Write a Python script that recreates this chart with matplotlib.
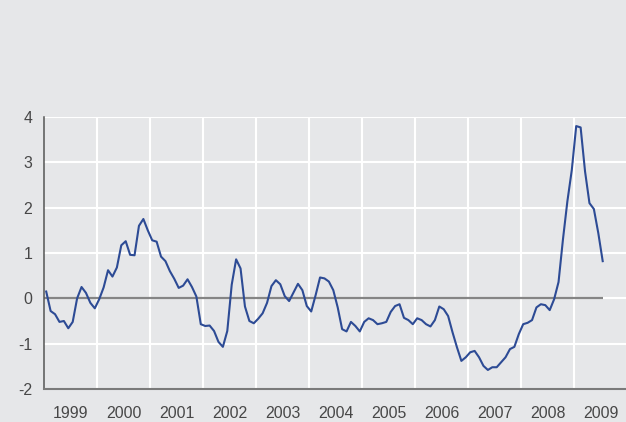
import numpy as np
import matplotlib.pyplot as plt
from matplotlib.ticker import FixedLocator, NullFormatter

plt.rcParams['font.family'] = ['Liberation Sans', 'DejaVu Sans']
plt.rcParams['axes.unicode_minus'] = False

# monthly values, Jan 1999 - Jul 2009
v1999 = [0.15, -0.28, -0.35, -0.52, -0.5, -0.66, -0.52, 0.0, 0.25, 0.12, -0.1, -0.22]
v2000 = [-0.02, 0.24, 0.62, 0.48, 0.68, 1.17, 1.26, 0.96, 0.95, 1.6, 1.75, 1.5]
v2001 = [1.28, 1.25, 0.92, 0.82, 0.6, 0.43, 0.23, 0.28, 0.42, 0.25, 0.04, -0.57]
v2002 = [-0.61, -0.6, -0.72, -0.96, -1.07, -0.72, 0.3, 0.86, 0.66, -0.18, -0.5, -0.55]
v2003 = [-0.45, -0.33, -0.1, 0.27, 0.4, 0.31, 0.05, -0.06, 0.13, 0.32, 0.18, -0.17]
v2004 = [-0.29, 0.07, 0.46, 0.44, 0.37, 0.18, -0.2, -0.68, -0.73, -0.52, -0.61, -0.73]
v2005 = [-0.52, -0.44, -0.48, -0.57, -0.55, -0.52, -0.3, -0.17, -0.13, -0.43, -0.48, -0.57]
v2006 = [-0.44, -0.48, -0.57, -0.62, -0.48, -0.18, -0.24, -0.39, -0.75, -1.08, -1.38, -1.3]
v2007 = [-1.19, -1.16, -1.3, -1.49, -1.58, -1.52, -1.52, -1.41, -1.3, -1.12, -1.07, -0.79]
v2008 = [-0.57, -0.54, -0.48, -0.2, -0.13, -0.15, -0.26, -0.02, 0.36, 1.3, 2.14, 2.83]
v2009 = [3.8, 3.77, 2.8, 2.1, 1.97, 1.44, 0.82]

values = v1999 + v2000 + v2001 + v2002 + v2003 + v2004 + v2005 + v2006 + v2007 + v2008 + v2009
dates = 1999 + (np.arange(len(values)) + 0.5) / 12
years = list(range(1999, 2010))

bg = '#e6e7e9'
fig = plt.figure(figsize=(6.26, 4.22), dpi=100, facecolor=bg)
ax = fig.add_axes([44 / 626, 33 / 422, 583 / 626, 272 / 422], facecolor=bg)

ax.set_xlim(1999, 2010)
ax.set_ylim(-2, 4)

for y in range(-1, 5):
    ax.axhline(y, color='white', lw=1.5, zorder=1)
for x in years[1:] + [2010]:
    ax.axvline(x, color='white', lw=1.5, zorder=1)

ax.hlines(0, 1999, dates[-1], color='#858585', lw=1.6, zorder=2)
ax.plot(dates, values, color='#2d4b95', lw=1.5, zorder=3)

for s in ['top', 'right']:
    ax.spines[s].set_visible(False)
ax.spines['left'].set_color('#555555')
ax.spines['left'].set_linewidth(1.1)
ax.spines['bottom'].set_color('#7a7a7a')
ax.spines['bottom'].set_linewidth(1.5)

ax.set_yticks(range(-2, 5))
ax.set_yticklabels([str(y) for y in range(-2, 5)])
ax.tick_params(axis='y', length=0, pad=8.5, labelsize=11.4, labelcolor='#474747')

ax.xaxis.set_major_locator(FixedLocator(years))
ax.xaxis.set_major_formatter(NullFormatter())
ax.xaxis.set_minor_locator(FixedLocator([y + 0.5 for y in years]))
ax.set_xticklabels([str(y) for y in years], minor=True)
ax.tick_params(axis='x', which='both', length=0)
ax.tick_params(axis='x', which='minor', pad=12.5, labelsize=11.4, labelcolor='#474747')

fig.savefig('out.png', dpi=100, facecolor=bg)
